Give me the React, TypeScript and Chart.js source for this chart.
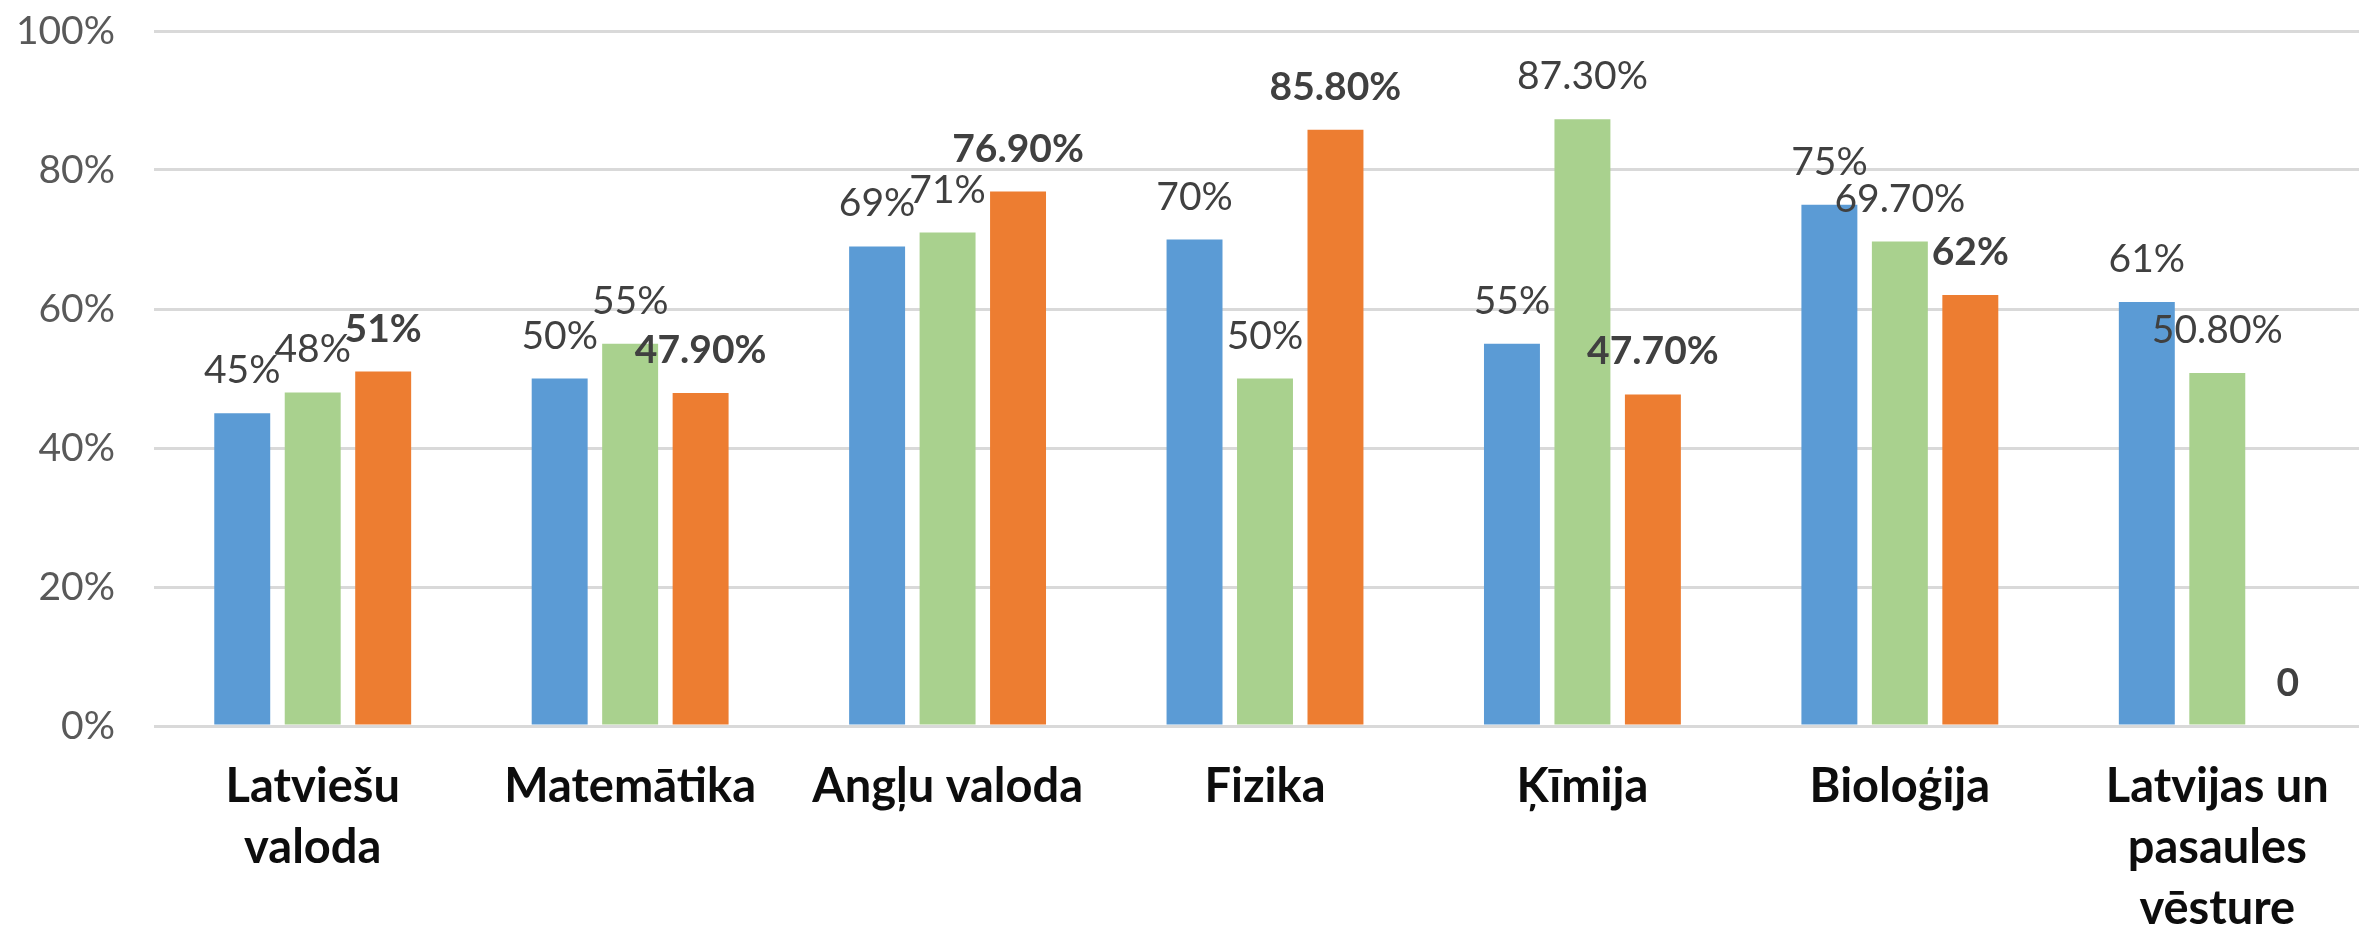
import React, { useEffect, useRef } from "react";
import { Chart, registerables } from "chart.js";

Chart.register(...registerables);

// ---- data ----
const categories: string[][] = [
  ["Latviešu", "valoda"],
  ["Matemātika"],
  ["Angļu valoda"],
  ["Fizika"],
  ["Ķīmija"],
  ["Bioloģija"],
  ["Latvijas un", "pasaules", "vēsture"],
];

const seriesNames = ["Sērija 1", "Sērija 2", "Sērija 3"];

const blueValues = [45, 50, 69, 70, 55, 75, 61];
const greenValues = [48, 55, 71, 50, 87.3, 69.7, 50.8];
const orangeValues = [51, 47.9, 76.9, 85.8, 47.7, 62, 0];

const blueLabels = ["45%", "50%", "69%", "70%", "55%", "75%", "61%"];
const greenLabels = ["48%", "55%", "71%", "50%", "87.30%", "69.70%", "50.80%"];
const orangeLabels = ["51%", "47.90%", "76.90%", "85.80%", "47.70%", "62%", "0"];

const yTickLabels = ["0%", "20%", "40%", "60%", "80%", "100%"];

// ---- styles ----
const COLORS = ["#5B9BD5", "#A9D18E", "#ED7D31"];
const LABEL_BOLD = [false, false, true];
const FONT = "Lato, 'Open Sans', sans-serif";

const valueLabelPlugin = {
  id: "valueLabels",
  afterDatasetsDraw(chart: any) {
    const ctx = chart.ctx;
    const allLabels = [blueLabels, greenLabels, orangeLabels];
    chart.data.datasets.forEach((_ds: any, i: number) => {
      const meta = chart.getDatasetMeta(i);
      meta.data.forEach((el: any, j: number) => {
        ctx.save();
        ctx.font = `${LABEL_BOLD[i] ? "bold " : ""}39px ${FONT}`;
        ctx.fillStyle = "#404040";
        ctx.textAlign = "center";
        ctx.textBaseline = "alphabetic";
        ctx.fillText(allLabels[i][j], el.x, el.y - 30);
        ctx.restore();
      });
    });
  },
};

export default function App() {
  const canvasRef = useRef<HTMLCanvasElement | null>(null);

  useEffect(() => {
    if (!canvasRef.current) return;
    const chart = new Chart(canvasRef.current, {
      type: "bar",
      data: {
        labels: categories,
        datasets: [blueValues, greenValues, orangeValues].map((vals, i) => ({
          label: seriesNames[i],
          data: vals,
          backgroundColor: COLORS[i],
          borderWidth: 0,
          categoryPercentage: 0.666,
          barPercentage: 0.794,
        })),
      },
      options: {
        responsive: false,
        animation: false,
        devicePixelRatio: 1,
        layout: { padding: { top: 31, left: 0, right: 0, bottom: 0 } },
        plugins: {
          legend: { display: false },
          title: { display: false },
          tooltip: { enabled: false },
        },
        scales: {
          x: {
            grid: { display: false, drawTicks: false },
            border: { display: false },
            ticks: {
              color: "#0d0d0d",
              font: { family: FONT, size: 47, weight: "bold", lineHeight: 1.3 },
              padding: 30,
              maxRotation: 0,
              minRotation: 0,
              autoSkip: false,
            },
            afterFit: (scale: any) => {
              scale.height = 204;
              scale.paddingLeft = 0;
              scale.paddingRight = 0;
            },
          },
          y: {
            min: 0,
            max: 100,
            grid: { color: "#D9D9D9", lineWidth: 3, drawTicks: false },
            border: { display: false },
            ticks: {
              stepSize: 20,
              color: "#595959",
              font: { family: FONT, size: 39 },
              padding: 39,
              callback: (_v: any, idx: number) => yTickLabels[idx],
            },
            afterFit: (scale: any) => {
              scale.width = 154;
              scale.paddingTop = 0;
              scale.paddingBottom = 0;
            },
          },
        },
      },
      plugins: [valueLabelPlugin],
    });
    return () => chart.destroy();
  }, []);

  return (
    <div
      style={{
        position: "absolute",
        left: 0,
        top: 0,
        width: 2359,
        height: 930,
        overflow: "hidden",
        background: "#ffffff",
      }}
    >
      <canvas ref={canvasRef} width={2376} height={930} style={{ display: "block" }} />
    </div>
  );
}
